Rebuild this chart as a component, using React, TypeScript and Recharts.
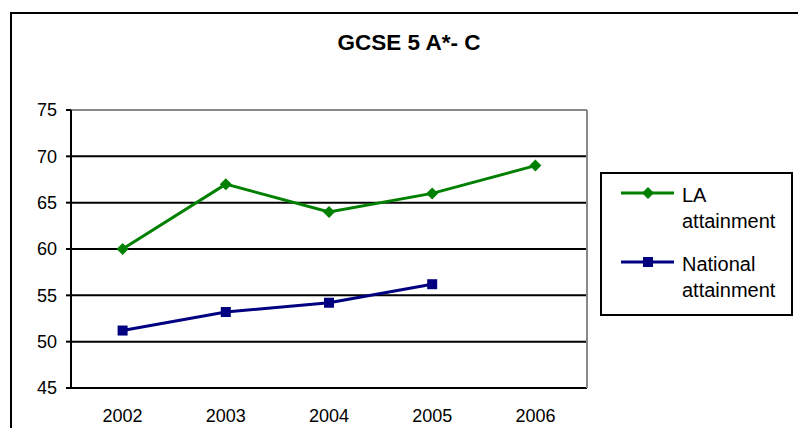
import React from "react";
import { LineChart, Line, XAxis, YAxis, CartesianGrid, ReferenceLine } from "recharts";

const years = ["2002", "2003", "2004", "2005", "2006"];
const laAttainment = [60, 67, 64, 66, 69];
const nationalAttainment: (number | null)[] = [51.2, 53.2, 54.2, 56.2, null];
const yTicks = [45, 50, 55, 60, 65, 70, 75];
const boundaryTicks = [0, 1, 2, 3, 4, 5];

const data = years.map((year, i) => ({
  year,
  pos: i + 0.5,
  la: laAttainment[i],
  national: nationalAttainment[i],
}));

const FONT = "'Liberation Sans', Arial, sans-serif";

const Diamond = (props: any) => {
  const { cx, cy } = props;
  if (cx == null || cy == null) return null;
  return <path d={`M${cx},${cy - 6} L${cx + 6},${cy} L${cx},${cy + 6} L${cx - 6},${cy} Z`} fill="#008000" />;
};

const Square = (props: any) => {
  const { cx, cy, value } = props;
  if (cx == null || cy == null || value == null) return null;
  return <rect x={cx - 5} y={cy - 5} width={10} height={10} fill="#000080" />;
};

const LegendBox = () => {
  const items = [
    { label: ["LA", "attainment"], color: "#008000", shape: "diamond" },
    { label: ["National", "attainment"], color: "#000080", shape: "square" },
  ];
  return (
    <div style={{
      position: "absolute", left: 600, top: 172,
      width: 170, height: 132, border: "2px solid #000", background: "#fff",
      paddingTop: 8, paddingLeft: 19, fontFamily: FONT,
    }}>
      {items.map((it, idx) => (
        <div key={idx} style={{ display: "flex", alignItems: "flex-start", marginBottom: 17 }}>
          <svg width={61} height={22} style={{ flex: "none" }}>
            <line x1={0} y1={11} x2={53} y2={11} stroke={it.color} strokeWidth={3} />
            {it.shape === "diamond"
              ? <path d="M27,5 L33,11 L27,17 L21,11 Z" fill={it.color} />
              : <rect x={22} y={6} width={10} height={10} fill={it.color} />}
          </svg>
          <div style={{ fontSize: 20, lineHeight: "26px", color: "#000" }}>
            {it.label.map((l) => <div key={l}>{l}</div>)}
          </div>
        </div>
      ))}
    </div>
  );
};

export default function App() {
  return (
    <div style={{ position: "absolute", left: 0, top: 0, width: 798, height: 428, background: "#fff", overflow: "hidden" }}>
      <div style={{
        position: "absolute", left: 10, top: 12, width: 820, height: 460,
        border: "2px solid #000", boxShadow: "0 1px 0 #bbb",
      }} />
      <div style={{
        position: "absolute", left: 0, width: 818, top: 30, textAlign: "center",
        fontFamily: FONT, fontWeight: 700, fontSize: 22.5, color: "#000",
      }}>
        GCSE 5 A*- C
      </div>
      <div style={{ position: "absolute", left: 0, top: 0 }}>
        <LineChart width={798} height={428} data={data} margin={{ top: 110, right: 211, bottom: 10, left: 11 }}>
          <CartesianGrid vertical={false} stroke="#000" strokeWidth={2} />
          <XAxis xAxisId="num" type="number" dataKey="pos" domain={[0, 5]} ticks={boundaryTicks}
            height={0} tick={() => <g />} tickSize={6} tickLine={{ stroke: "#000", strokeWidth: 2 }}
            axisLine={{ stroke: "#000", strokeWidth: 2 }} allowDataOverflow />
          <XAxis xAxisId="cat" dataKey="year" scale="band" height={30} axisLine={false} tickLine={false} tickSize={0}
            tickMargin={21} tick={{ fontSize: 18, fill: "#000", fontFamily: FONT }} interval={0} />
          <YAxis domain={[45, 75]} ticks={yTicks} width={60} tickSize={5} tickMargin={9} interval={0}
            tick={{ fontSize: 18, fill: "#000", fontFamily: FONT }}
            tickLine={{ stroke: "#000", strokeWidth: 2 }} axisLine={{ stroke: "#000", strokeWidth: 2 }} />
          <ReferenceLine xAxisId="num" y={75} stroke="#888" strokeWidth={2} />
          <ReferenceLine xAxisId="num" x={5} stroke="#888" strokeWidth={2} />
          <Line xAxisId="cat" dataKey="la" stroke="none" dot={false} legendType="none" isAnimationActive={false} />
          <Line xAxisId="num" dataKey="la" name="LA attainment" stroke="#008000" strokeWidth={3}
            dot={<Diamond />} activeDot={false} isAnimationActive={false} />
          <Line xAxisId="num" dataKey="national" name="National attainment" stroke="#000080" strokeWidth={3}
            dot={<Square />} activeDot={false} isAnimationActive={false} />
        </LineChart>
      </div>
      <LegendBox />
    </div>
  );
}
